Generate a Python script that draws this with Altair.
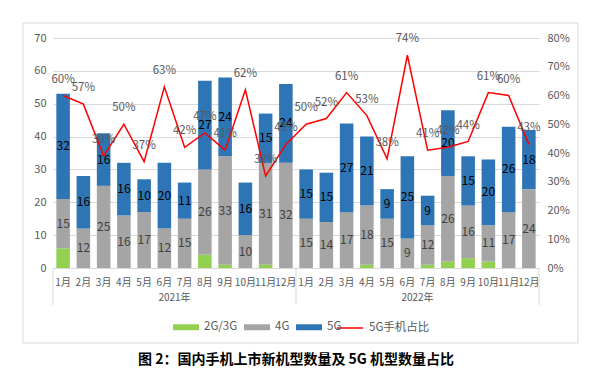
import altair as alt
import pandas as pd

# ---------------- data ----------------
years = ["2021年"] * 12 + ["2022年"] * 12
months = ["1月", "2月", "3月", "4月", "5月", "6月", "7月", "8月", "9月", "10月", "11月", "12月",
          "1月", "2月", "3月", "4月", "5月", "6月", "7月", "8月", "9月", "10月", "11月", "12月"]
g23 = [6, 0, 0, 0, 0, 0, 0, 4, 1, 0, 1, 0,
       0, 0, 0, 1, 0, 0, 1, 2, 3, 2, 0, 0]
g4 = [15, 12, 25, 16, 17, 12, 15, 26, 33, 10, 31, 32,
      15, 14, 17, 18, 15, 9, 12, 26, 16, 11, 17, 24]
g5 = [32, 16, 16, 16, 10, 20, 11, 27, 24, 16, 15, 24,
      15, 15, 27, 21, 9, 25, 9, 20, 15, 20, 26, 18]
pct = [0.60, 0.57, 0.39, 0.50, 0.37, 0.63, 0.42, 0.47, 0.41, 0.62, 0.32, 0.43,
       0.50, 0.52, 0.61, 0.53, 0.38, 0.74, 0.41, 0.42, 0.44, 0.61, 0.60, 0.43]
series = ["2G/3G", "4G", "5G"]
series_colors = ["#92D050", "#A5A5A5", "#2E75B6"]
line_name = "5G手机占比"
year_labels = ["2021年", "2022年"]
title_text = "图 2：国内手机上市新机型数量及 5G 机型数量占比"

keys = [y + "|" + m for y, m in zip(years, months)]

rows = []
for k, a, b, c in zip(keys, g23, g4, g5):
    for i, (s, v) in enumerate(zip(series, [a, b, c])):
        rows.append({"key": k, "series": s, "value": v, "order": i})
bars_df = pd.DataFrame(rows)
line_df = pd.DataFrame({"key": keys, "pct": pct, "name": line_name})
year_df = pd.DataFrame({"label": year_labels, "key": [keys[5], keys[17]]})
sep_start_df = pd.DataFrame({"key": [keys[0], keys[12]]})
sep_end_df = pd.DataFrame({"key": [keys[23]]})

FONT = "Noto Sans CJK SC"
GRID = "#D9D9D9"
TXT = "#595959"

xscale = alt.Scale(domain=keys, paddingInner=0, paddingOuter=0)
x_axis = alt.Axis(title=None, labelExpr="split(datum.label, '|')[1]", labelAngle=0,
                  ticks=False, domainColor=GRID, labelColor=TXT, labelFontSize=10,
                  labelPadding=9)


def X(band=None):
    if band is None:
        return alt.X("key:N", scale=xscale, axis=x_axis)
    return alt.X("key:N", scale=xscale, axis=x_axis, bandPosition=band)


left_scale = alt.Scale(domain=[0, 70])
bars = alt.Chart(bars_df).mark_bar(width=alt.RelativeBandSize(0.67)).encode(
    x=X(),
    y=alt.Y("value:Q", stack="zero", scale=left_scale,
            axis=alt.Axis(title=None, values=[0, 10, 20, 30, 40, 50, 60, 70], grid=True,
                          gridColor=GRID, domain=False, ticks=False, labelColor=TXT,
                          labelFontSize=11, labelPadding=7)),
    color=alt.Color("series:N", scale=alt.Scale(domain=series, range=series_colors),
                    legend=alt.Legend(title=None, orient="none", legendX=120, legendY=276,
                                      direction="horizontal",
                                      symbolType="M-1,-0.23H1V0.23H-1Z", symbolSize=676,
                                      symbolStrokeWidth=0, labelFontSize=11.5,
                                      labelColor=TXT, labelOffset=5, columnPadding=6)),
    order=alt.Order("order:Q", sort="ascending"),
)

labels = alt.Chart(bars_df).transform_stack(
    stack="value", groupby=["key"], as_=["v0", "v1"],
    sort=[alt.SortField("order", "ascending")]
).transform_calculate(mid="(datum.v0 + datum.v1) / 2").transform_filter(
    "datum.series != '2G/3G'"
).mark_text(fontSize=12).encode(
    x=X(),
    y=alt.Y("mid:Q", scale=left_scale, axis=None),
    text="value:Q",
    color=alt.condition("datum.series == '5G'", alt.value("#000000"), alt.value("#404040")),
)

right_scale = alt.Scale(domain=[0, 0.8])
line = alt.Chart(line_df).mark_line(strokeWidth=1.5).encode(
    x=X(),
    y=alt.Y("pct:Q", scale=right_scale,
            axis=alt.Axis(title=None, orient="right", format=".0%",
                          values=[0, 0.1, 0.2, 0.3, 0.4, 0.5, 0.6, 0.7, 0.8],
                          grid=False, domain=False, ticks=False, labelColor=TXT,
                          labelFontSize=11, labelPadding=8)),
    stroke=alt.Stroke("name:N", scale=alt.Scale(domain=[line_name], range=["#FF0000"]),
                      legend=alt.Legend(title=None, orient="none", legendX=283, legendY=276,
                                        symbolType="stroke", symbolSize=676,
                                        symbolStrokeWidth=1.5, labelFontSize=11.5,
                                        labelColor=TXT, labelOffset=5)),
)
pct_text = alt.Chart(line_df).mark_text(dy=-16, fontSize=11.5, color=TXT).encode(
    x=X(),
    y=alt.Y("pct:Q", scale=right_scale, axis=None),
    text=alt.Text("pct:Q", format=".0%"),
)

year_text = alt.Chart(year_df).mark_text(fontSize=10, color=TXT).encode(
    x=X(1),
    y=alt.value(260),
    text="label:N",
)
sep_start = alt.Chart(sep_start_df).mark_rule(color=GRID).encode(
    x=X(0),
    y=alt.value(230), y2=alt.value(267),
)
sep_end = alt.Chart(sep_end_df).mark_rule(color=GRID).encode(
    x=X(1),
    y=alt.value(230), y2=alt.value(267),
)
frame = alt.Chart(sep_end_df).mark_rect(fill="transparent", stroke=GRID).encode(
    x=alt.value(-30), x2=alt.value(525), y=alt.value(-15), y2=alt.value(305),
)

chart = alt.layer(
    bars, labels, sep_start, sep_end, year_text, line, pct_text, frame
).resolve_scale(
    y="independent", color="independent"
).properties(
    width=486, height=230,
    padding={"left": 45, "top": 30, "right": 48, "bottom": 108},
    autosize=alt.AutoSizeParams(type="none"),
    title=alt.TitleParams(title_text, orient="bottom", anchor="middle", fontSize=14,
                          fontWeight="bold", color="#000000", font=FONT, offset=9),
).configure(font=FONT).configure_view(stroke=None)

chart.save("out.html", embed_options={"renderer": "svg", "actions": False})
